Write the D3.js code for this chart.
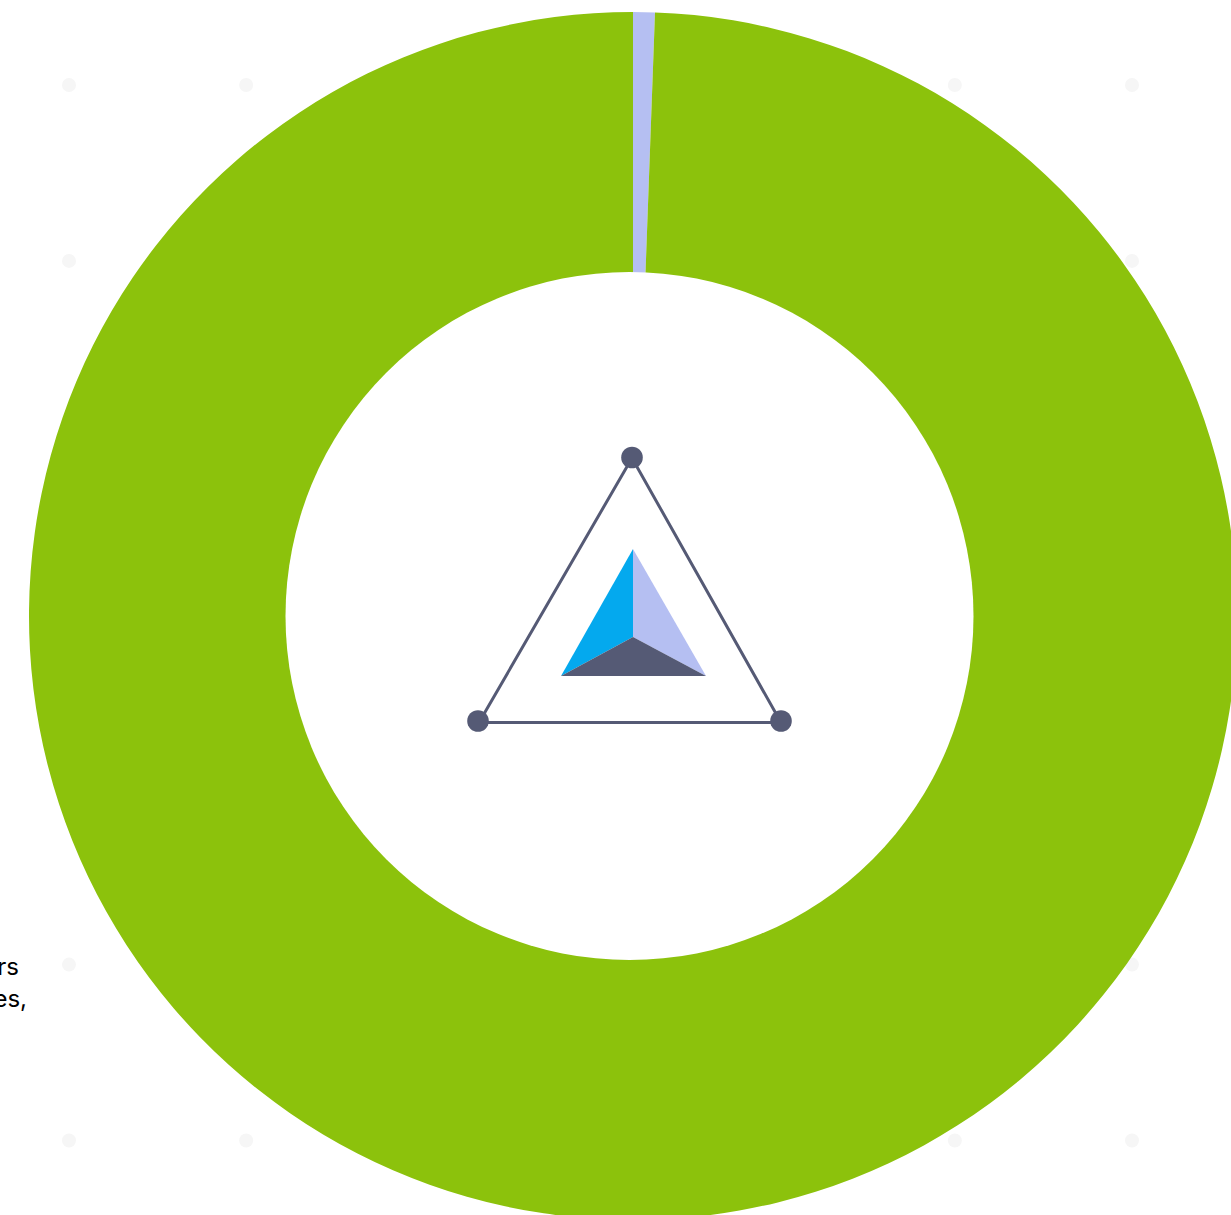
<!DOCTYPE html>
<html>
<head>
<meta charset="utf-8">
<script src="https://cdn.jsdelivr.net/npm/d3@7"></script>
<style>
  html, body { margin: 0; padding: 0; background: #fff; overflow: hidden; }
  svg { display: block; }
</style>
</head>
<body>
<div id="chart"></div>
<script>
// donut values
var sliceNames = ['Minor', 'Major'];
var sliceValues = [0.58, 99.42];
var sliceColors = ['#b5bff2', '#8cc20c'];

// background dot grid
var gridCols = [0, 1, 2, 3, 4, 5, 6];
var gridRows = [0, 1, 2, 3, 4, 5, 6];

// text fragments cut off by the left edge
var textLines = ['rs', 'es,'];

var width = 1231;
var height = 1215;
var cx = 633;
var cy = 616;
var outerRadius = 604;

var svg = d3.select('#chart').append('svg')
    .attr('width', width)
    .attr('height', height);

var xGrid = d3.scalePoint().domain(gridCols).range([69, 1132]);
var yGrid = d3.scalePoint().domain(gridRows).range([85, 1140.5]);

svg.append('g').attr('class', 'dots')
    .selectAll('g')
    .data(gridRows)
    .enter().append('g')
    .selectAll('circle')
    .data((r) => gridCols.map((c) => [c, r]))
    .enter().append('circle')
    .attr('cx', (d) => xGrid(d[0]))
    .attr('cy', (d) => yGrid(d[1]))
    .attr('r', 7)
    .attr('fill', '#f6f6f6');

var lineY = d3.scalePoint().domain(textLines).range([975, 1007]);
var lineEnd = d3.scaleOrdinal().domain(textLines).range([19, 27]);

svg.append('g').attr('class', 'copy')
    .selectAll('text')
    .data(textLines)
    .enter().append('text')
    .attr('x', (d) => lineEnd(d))
    .attr('y', (d) => lineY(d))
    .attr('text-anchor', 'end')
    .attr('font-family', 'Inter, sans-serif')
    .attr('font-size', 24)
    .attr('fill', '#000')
    .text((d) => d);

var pie = d3.pie().sort(null);
var arc = d3.arc().innerRadius(0).outerRadius(outerRadius);

svg.append('g').attr('class', 'pie')
    .attr('transform', 'translate(' + cx + ',' + cy + ')')
    .selectAll('path')
    .data(pie(sliceValues))
    .enter().append('path')
    .attr('class', (d, i) => sliceNames[i])
    .attr('d', arc)
    .attr('fill', (d, i) => sliceColors[i]);

// the hole sits a bit left of the pie centre
svg.append('circle')
    .attr('cx', 629.5)
    .attr('cy', 616)
    .attr('r', 344)
    .attr('fill', '#fff');

// logo in the middle
var logo = svg.append('g').attr('class', 'logo');
var dark = '#555a75';
var line = d3.line();

logo.append('path')
    .attr('d', line([[632, 458], [479, 722.5], [781, 722.5]]) + 'Z')
    .attr('fill', 'none')
    .attr('stroke', dark)
    .attr('stroke-width', 3);
logo.selectAll('circle')
    .data([[632, 457.5], [478, 721], [781, 721]])
    .enter().append('circle')
    .attr('cx', (d) => d[0])
    .attr('cy', (d) => d[1])
    .attr('r', 10.8)
    .attr('fill', dark);

var apex = [633, 549], mid = [633, 637], low1 = [561, 676], low2 = [706, 676];
logo.append('path').attr('d', line([apex, mid, low1]) + 'Z').attr('fill', '#04a9ee');
logo.append('path').attr('d', line([apex, mid, low2]) + 'Z').attr('fill', '#b5bff2');
logo.append('path').attr('d', line([low1, mid, low2]) + 'Z').attr('fill', dark);
</script>
</body>
</html>
